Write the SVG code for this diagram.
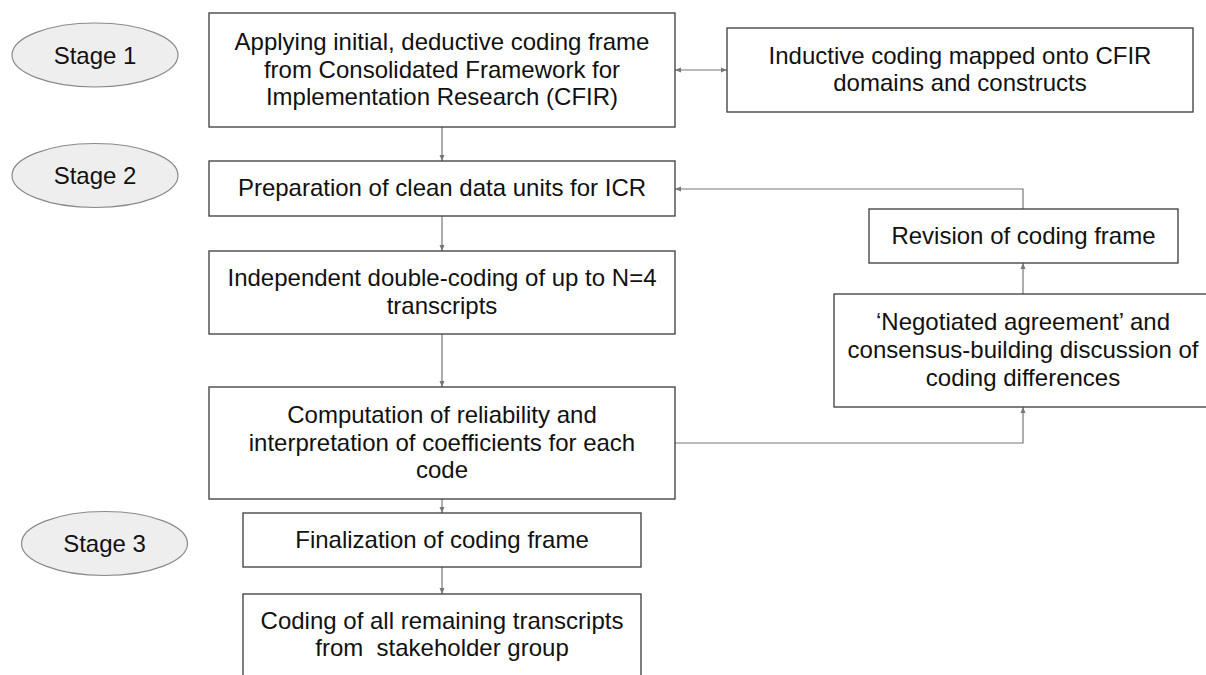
<svg xmlns="http://www.w3.org/2000/svg" width="1206" height="675" viewBox="0 0 1206 675">
  <style>
    .box { fill: #ffffff; stroke: #3a3a3a; stroke-width: 1.3; }
    .stage { fill: #eeeeee; stroke: #8a8a8a; stroke-width: 1.2; }
    .t { font-family: "Liberation Sans", Arial, sans-serif; font-size: 24px; fill: #111111; text-anchor: middle; }
    .c { fill: none; stroke: #777777; stroke-width: 1.2; }
  </style>
  <defs>
    <marker id="ah" viewBox="0 0 6 6" refX="6" refY="3" markerWidth="6" markerHeight="6" markerUnits="userSpaceOnUse" orient="auto-start-reverse">
      <path d="M0,0.5 L6,3 L0,5.5 z" fill="#777777"/>
    </marker>
  </defs>
  <rect width="1206" height="675" fill="#ffffff"/>

  <g id="connectors">
    <line class="c" x1="675" y1="70" x2="727" y2="70" marker-start="url(#ah)" marker-end="url(#ah)"/>
    <line class="c" x1="442" y1="127" x2="442" y2="161" marker-end="url(#ah)"/>
    <line class="c" x1="442" y1="216" x2="442" y2="251" marker-end="url(#ah)"/>
    <line class="c" x1="442" y1="334" x2="442" y2="387" marker-end="url(#ah)"/>
    <line class="c" x1="442" y1="499" x2="442" y2="513" marker-end="url(#ah)"/>
    <line class="c" x1="442" y1="567" x2="442" y2="594" marker-end="url(#ah)"/>
    <polyline class="c" points="1023,209 1023,189 675,189" marker-end="url(#ah)"/>
    <line class="c" x1="1023" y1="294" x2="1023" y2="263" marker-end="url(#ah)"/>
    <polyline class="c" points="675,443 1023,443 1023,407" marker-end="url(#ah)"/>
  </g>

  <g id="stage1">
    <ellipse class="stage" cx="95" cy="55" rx="83" ry="32"/>
    <text class="t" x="95" y="63.5">Stage 1</text>
  </g>
  <g id="stage2">
    <ellipse class="stage" cx="95" cy="175.5" rx="83" ry="32"/>
    <text class="t" x="95" y="184">Stage 2</text>
  </g>
  <g id="stage3">
    <ellipse class="stage" cx="104.5" cy="543.5" rx="83" ry="32"/>
    <text class="t" x="104.5" y="552">Stage 3</text>
  </g>

  <g id="deductive">
    <rect class="box" x="209" y="13" width="466" height="114"/>
    <text class="t" x="442" y="49.9">Applying initial, deductive coding frame</text>
    <text class="t" x="442" y="77.5">from Consolidated Framework for</text>
    <text class="t" x="442" y="105.1">Implementation Research (CFIR)</text>
  </g>
  <g id="inductive">
    <rect class="box" x="727" y="28" width="466" height="84"/>
    <text class="t" x="960" y="63.7">Inductive coding mapped onto CFIR</text>
    <text class="t" x="960" y="91.3">domains and constructs</text>
  </g>
  <g id="preparation">
    <rect class="box" x="209" y="161" width="466" height="55"/>
    <text class="t" x="442" y="196">Preparation of clean data units for ICR</text>
  </g>
  <g id="revision">
    <rect class="box" x="869" y="209" width="309" height="54"/>
    <text class="t" x="1023.5" y="243.5">Revision of coding frame</text>
  </g>
  <g id="double-coding">
    <rect class="box" x="209" y="251" width="466" height="83"/>
    <text class="t" x="442" y="286.2">Independent double-coding of up to N=4</text>
    <text class="t" x="442" y="313.8">transcripts</text>
  </g>
  <g id="negotiated">
    <rect class="box" x="834" y="294" width="378" height="113"/>
    <text class="t" x="1023" y="330.4">‘Negotiated agreement’ and</text>
    <text class="t" x="1023" y="358">consensus-building discussion of</text>
    <text class="t" x="1023" y="385.6">coding differences</text>
  </g>
  <g id="computation">
    <rect class="box" x="209" y="387" width="466" height="112"/>
    <text class="t" x="442" y="422.9">Computation of reliability and</text>
    <text class="t" x="442" y="450.5">interpretation of coefficients for each</text>
    <text class="t" x="442" y="478.1">code</text>
  </g>
  <g id="finalization">
    <rect class="box" x="243" y="513" width="398" height="54"/>
    <text class="t" x="442" y="547.5">Finalization of coding frame</text>
  </g>
  <g id="coding-all">
    <rect class="box" x="243" y="594" width="398" height="82"/>
    <text class="t" x="442" y="628.7">Coding of all remaining transcripts</text>
    <text class="t" x="442" y="656.3" xml:space="preserve">from  stakeholder group</text>
  </g>
</svg>
